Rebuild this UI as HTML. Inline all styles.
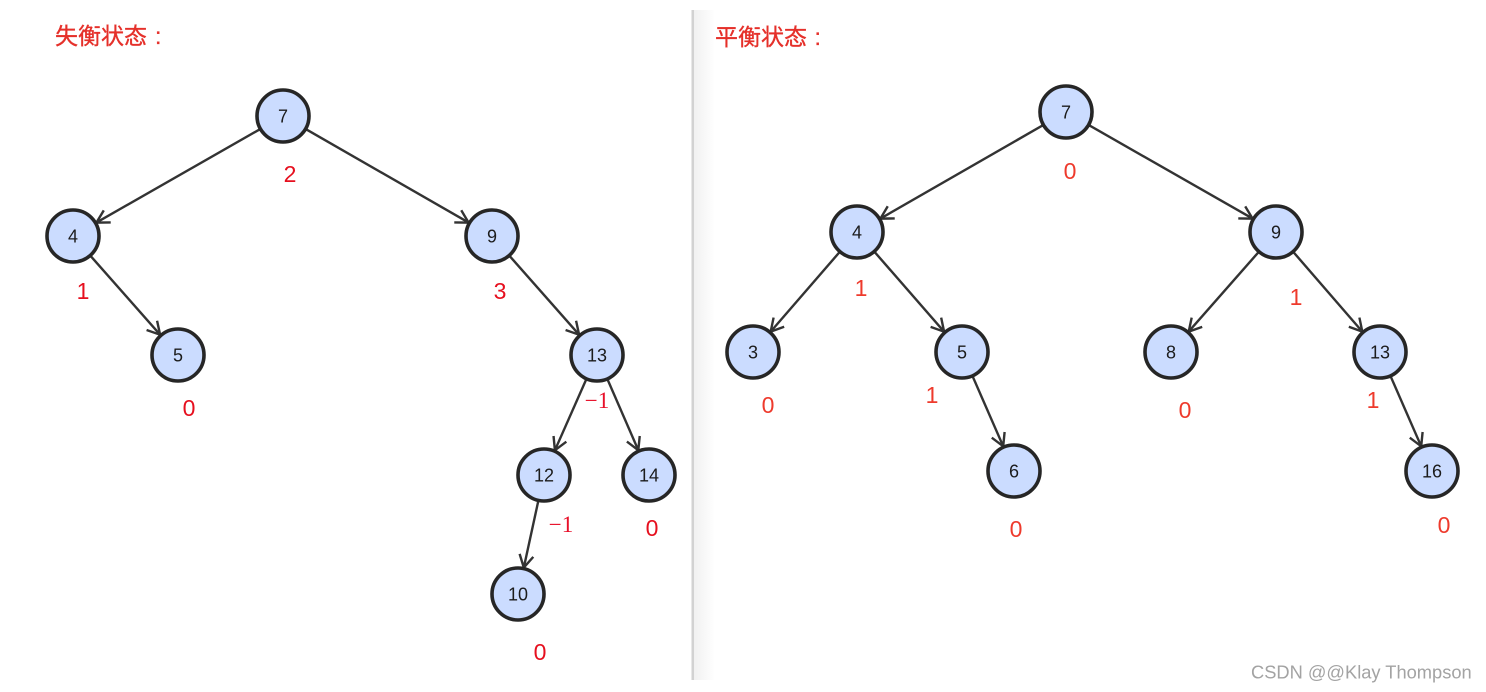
<!DOCTYPE html>
<html>
<head>
<meta charset="utf-8">
<style>
html,body{margin:0;padding:0;background:#fff;}
svg{display:block;}
.n{fill:#cbdcff;stroke:#262626;stroke-width:3.6;}
.e{fill:none;stroke:#333;stroke-width:2.4;marker-end:url(#a);}
.t{font-family:"Liberation Sans",sans-serif;font-size:18px;fill:#1c1c1c;text-anchor:middle;}
.v{font-family:"Liberation Sans",sans-serif;font-size:23px;fill:#e60f1e;text-anchor:middle;}
.r{fill:#ee3a2c;}
.m{font-family:"Liberation Serif",serif;font-size:23px;fill:#e8102a;text-anchor:middle;}
.h{font-family:"Liberation Sans","Noto Sans CJK SC",sans-serif;font-size:23px;fill:#e5302a;stroke:#e5302a;stroke-width:.35;}
.w{font-family:"Liberation Sans",sans-serif;font-size:18.3px;fill:#a3a3a3;}
</style>
</head>
<body>
<svg width="1486" height="692" viewBox="0 0 1486 692" xmlns="http://www.w3.org/2000/svg">
<defs>
<linearGradient id="g" x1="0" x2="1" y1="0" y2="0">
<stop offset="0" stop-color="#f0f0f0"/>
<stop offset="1" stop-color="#ffffff"/>
</linearGradient>
<marker id="a" markerUnits="userSpaceOnUse" markerWidth="24" markerHeight="24" refX="14" refY="8" orient="auto" viewBox="0 0 24 16">
<path d="M1.500 1 L14 8 L1.500 15" fill="none" stroke="#333" stroke-width="2.4"/>
</marker>
</defs>
<rect x="693" y="10" width="22" height="670" fill="url(#g)"/>
<rect x="691.500" y="10" width="2.500" height="670" fill="#d2d2d2"/>

<text class="h" x="55" y="44">失衡状态</text>
<text class="h" x="155" y="44">:</text>
<text class="h" x="715" y="45">平衡状态</text>
<text class="h" x="814.500" y="45">:</text>

<!-- Left tree edges -->
<path class="e" d="M259.600 129.400 L96.400 222.600"/>
<path class="e" d="M306.400 129.400 L468.600 222.600"/>
<path class="e" d="M90.900 256.300 L160.100 334.700"/>
<path class="e" d="M509.900 256.300 L579.100 334.700"/>
<path class="e" d="M586.100 379.700 L554.900 450.300"/>
<path class="e" d="M607.700 379.800 L638.300 450.200"/>
<path class="e" d="M538.200 501.400 L523.800 567.600"/>

<!-- Right tree edges -->
<path class="e" d="M1042.600 125.400 L880.400 218.600"/>
<path class="e" d="M1089.400 125.400 L1252.600 218.600"/>
<path class="e" d="M839.300 252.400 L770.700 331.600"/>
<path class="e" d="M874.900 252.300 L944.100 331.700"/>
<path class="e" d="M1258.300 252.400 L1188.700 331.600"/>
<path class="e" d="M1293.700 252.400 L1362.300 331.600"/>
<path class="e" d="M972.800 376.700 L1003.200 446.300"/>
<path class="e" d="M1390.800 376.700 L1421.200 446.300"/>

<!-- Left tree nodes -->
<circle class="n" cx="283" cy="116" r="26"/><text class="t" x="283" y="122.500">7</text>
<circle class="n" cx="73" cy="236" r="26"/><text class="t" x="73" y="242.500">4</text>
<circle class="n" cx="492" cy="236" r="26"/><text class="t" x="492" y="242.500">9</text>
<circle class="n" cx="178" cy="355" r="26"/><text class="t" x="178" y="361.500">5</text>
<circle class="n" cx="597" cy="355" r="26"/><text class="t" x="597" y="361.500">13</text>
<circle class="n" cx="544" cy="475" r="26"/><text class="t" x="544" y="481.500">12</text>
<circle class="n" cx="649" cy="475" r="26"/><text class="t" x="649" y="481.500">14</text>
<circle class="n" cx="518" cy="594" r="26"/><text class="t" x="518" y="600.500">10</text>

<!-- Right tree nodes -->
<circle class="n" cx="1066" cy="112" r="26"/><text class="t" x="1066" y="118.500">7</text>
<circle class="n" cx="857" cy="232" r="26"/><text class="t" x="857" y="238.500">4</text>
<circle class="n" cx="1276" cy="232" r="26"/><text class="t" x="1276" y="238.500">9</text>
<circle class="n" cx="753" cy="352" r="26"/><text class="t" x="753" y="358.500">3</text>
<circle class="n" cx="962" cy="352" r="26"/><text class="t" x="962" y="358.500">5</text>
<circle class="n" cx="1171" cy="352" r="26"/><text class="t" x="1171" y="358.500">8</text>
<circle class="n" cx="1380" cy="352" r="26"/><text class="t" x="1380" y="358.500">13</text>
<circle class="n" cx="1014" cy="471" r="26"/><text class="t" x="1014" y="477.500">6</text>
<circle class="n" cx="1432" cy="471" r="26"/><text class="t" x="1432" y="477.500">16</text>

<!-- Left balance factors -->
<text class="v" x="290" y="182">2</text>
<text class="v" x="83" y="299">1</text>
<text class="v" x="500" y="299">3</text>
<text class="v" x="189" y="416">0</text>
<text class="v" x="652" y="536">0</text>
<text class="v" x="540" y="660">0</text>
<text class="m" x="597" y="408">−1</text>
<text class="m" x="561" y="532">−1</text>

<!-- Right balance factors -->
<text class="v r" x="1070" y="179">0</text>
<text class="v r" x="861" y="296">1</text>
<text class="v r" x="1296" y="305">1</text>
<text class="v r" x="768" y="413">0</text>
<text class="v r" x="932" y="403">1</text>
<text class="v r" x="1185" y="418">0</text>
<text class="v r" x="1373" y="408">1</text>
<text class="v r" x="1016" y="537">0</text>
<text class="v r" x="1444" y="533">0</text>

<text class="w" x="1251" y="678.500">CSDN @@Klay Thompson</text>
</svg>
</body>
</html>
